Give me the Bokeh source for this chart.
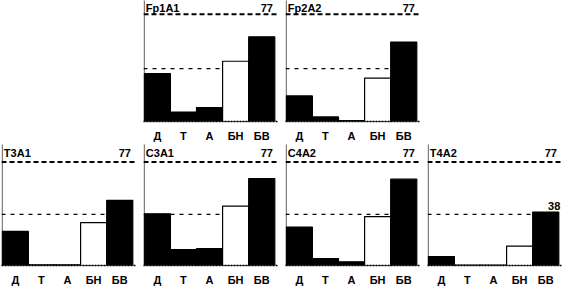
from bokeh.plotting import figure
from bokeh.layouts import gridplot
from bokeh.models import Range1d, FixedTicker, Span, ColumnDataSource
from bokeh.core.properties import value
from bokeh.embed import file_html
from bokeh.resources import INLINE

# ---- data ----
categories = ["Д", "Т", "А", "БН", "БВ"]
panel_names = ["Fp1A1", "Fp2A2", "T3A1", "C3A1", "C4A2", "T4A2"]
fp1a1 = [34.5, 6.8, 10.0, 43.3, 60.9]
fp2a2 = [18.4, 3.3, 0.7, 31.2, 57.1]
t3a1 = [25.4, 0.5, 0.5, 31.9, 48.5]
c3a1 = [38.5, 11.9, 12.5, 44.2, 64.7]
c4a2 = [28.6, 5.2, 2.7, 36.4, 64.3]
t4a2 = [6.7, 0.3, 0.3, 14.5, 39.8]
scale_max = 77
ref_level = 38
bar_colors = ["black", "black", "black", "white", "black"]

FONT = value("Liberation Sans")


def make_panel(name, vals, width, top_row, show_ref_label=False):
    height = 144
    bottom = 20 if top_row else 16
    y_end = 86.96 if top_row else 90.1
    title_off = 7 if top_row else 8.5
    p = figure(width=width, height=height, output_backend="svg",
               toolbar_location=None, title=None,
               x_range=Range1d(-0.03, 5.104), y_range=Range1d(0, y_end),
               min_border_left=1, min_border_right=width - 135,
               min_border_top=0, min_border_bottom=bottom)
    p.outline_line_color = None
    p.background_fill_color = "white"
    p.border_fill_color = "white"
    p.xgrid.visible = False
    p.ygrid.visible = False
    p.yaxis.visible = False

    xs = [i + 0.5 for i in range(len(categories))]
    src = ColumnDataSource(dict(x=xs, top=vals, color=bar_colors))

    # reference level line drawn beneath the bars
    p.add_layout(Span(location=ref_level, dimension="width", line_color="black",
                      line_width=1.3, line_dash="4 5", level="underlay"))

    p.vbar(x="x", top="top", bottom=0, width=1.0, source=src,
           fill_color="color", line_color="black", line_width=1.2)

    # top scale line
    p.add_layout(Span(location=scale_max, dimension="width", line_color="black",
                      line_width=2, line_dash="5 3"))
    # left dotted axis line
    p.add_layout(Span(location=0, dimension="height", line_color="black",
                      line_width=1.5, line_dash="1 1"))

    p.text(x=[0.06], y=[y_end], text=[name], y_offset=title_off,
           text_font=FONT, text_font_style="bold", text_font_size="11px",
           text_baseline="middle", text_align="left", text_color="black")
    p.text(x=[4.93], y=[y_end], text=[str(scale_max)], y_offset=title_off,
           text_font=FONT, text_font_style="bold", text_font_size="11px",
           text_baseline="middle", text_align="right", text_color="black")
    if show_ref_label:
        p.text(x=[5.06], y=[ref_level], text=[str(ref_level)], y_offset=-8,
               text_font=FONT, text_font_style="bold", text_font_size="11px",
               text_baseline="middle", text_align="right", text_color="black")

    ax = p.xaxis[0]
    ax.ticker = FixedTicker(ticks=xs)
    ax.major_label_overrides = {x: c for x, c in zip(xs, categories)}
    ax.major_tick_line_color = None
    ax.minor_tick_line_color = None
    ax.axis_line_color = "black"
    ax.axis_line_width = 1.5
    ax.axis_line_dash = "2 1"
    ax.major_label_standoff = 2
    ax.major_label_text_font = "Liberation Sans"
    ax.major_label_text_font_style = "bold"
    ax.major_label_text_font_size = "11px"
    ax.major_label_text_color = "black"
    return p


series = [fp1a1, fp2a2, t3a1, c3a1, c4a2, t4a2]
f_fp1 = make_panel(panel_names[0], series[0], 142, True)
f_fp2 = make_panel(panel_names[1], series[1], 142, True)
f_t3 = make_panel(panel_names[2], series[2], 142, False)
f_c3 = make_panel(panel_names[3], series[3], 142, False)
f_c4 = make_panel(panel_names[4], series[4], 142, False)
f_t4 = make_panel(panel_names[5], series[5], 137, False, show_ref_label=True)

grid = gridplot([[None, f_fp1, f_fp2, None], [f_t3, f_c3, f_c4, f_t4]],
                toolbar_location=None)

open("out.html", "w").write(file_html(grid, INLINE))
